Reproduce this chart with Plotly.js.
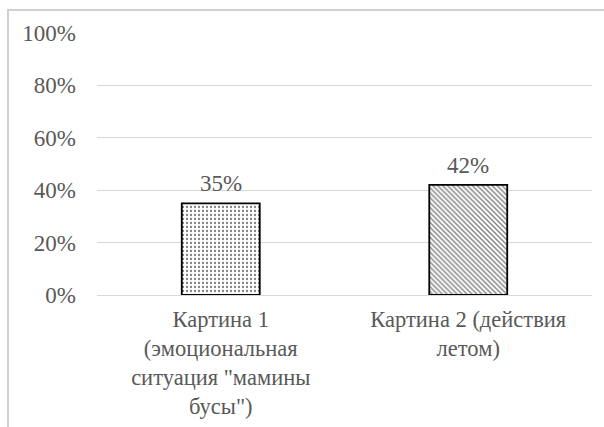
<!DOCTYPE html>
<html>
<head>
<meta charset="utf-8">
<script src="https://cdn.plot.ly/plotly-3.0.1.min.js"></script>
<style>
html,body{margin:0;padding:0;background:#fff;}
#chart{width:604px;height:427px;}
</style>
</head>
<body>
<div id="chart"></div>
<script>
const categories = [
  'Картина 1<br>(эмоциональная<br>ситуация "мамины<br>бусы")',
  'Картина 2 (действия<br>летом)'
];
const values = [0.35, 0.42];
const valueLabels = ['35%', '42%'];
const patternShapes = ['.', '\\'];
const yTicks = [0, 0.2, 0.4, 0.6, 0.8, 1.0];
const yTickLabels = ['0%', '20%', '40%', '60%', '80%', '100%'];

const fontFamily = 'Liberation Serif';
const textColor = '#595959';

const trace = {
  type: 'bar',
  x: categories,
  y: values,
  hoverinfo: 'none',
  marker: {
    color: '#ffffff',
    line: {color: '#000000', width: 1.8},
    pattern: {
      shape: patternShapes,
      fgcolor: '#000000',
      bgcolor: '#ffffff',
      size: [4, 3.5],
      solidity: [0.25, 0.4],
      fillmode: 'overlay'
    }
  }
};

const valueAnnotations = categories.map((c, i) => ({
  xref: 'x', yref: 'y', x: c, y: values[i],
  text: valueLabels[i], showarrow: false,
  yanchor: 'bottom', yshift: 5,
  font: {family: fontFamily, size: 23, color: textColor}
}));

const L = 97, R = 12, T = 33, B = 132;
const W = 604 - L - R, H = 427 - T - B;
const px2x = p => (p - L) / W;
const py2y = p => 1 - (p - T) / H;

const layout = {
  width: 604,
  height: 427,
  margin: {l: L, r: R, t: T, b: B, pad: 0},
  paper_bgcolor: '#ffffff',
  plot_bgcolor: '#ffffff',
  showlegend: false,
  bargap: 0.685,
  font: {family: fontFamily, size: 23, color: textColor},
  xaxis: {
    type: 'category',
    showgrid: false,
    showline: false,
    zeroline: false,
    ticks: '',
    ticklabelstandoff: 8,
    tickfont: {family: fontFamily, size: 22.5, color: textColor},
    tickangle: 0,
    automargin: false
  },
  yaxis: {
    range: [0, 1],
    tickvals: yTicks,
    ticktext: yTickLabels,
    showgrid: true,
    gridcolor: '#d9d9d9',
    gridwidth: 1,
    zeroline: true,
    zerolinecolor: '#d9d9d9',
    zerolinewidth: 1,
    showline: false,
    ticks: '',
    ticklabelstandoff: 20,
    tickfont: {family: fontFamily, size: 23, color: textColor},
    automargin: false
  },
  annotations: valueAnnotations,
  shapes: [
    {type: 'line', xref: 'paper', yref: 'paper',
     x0: px2x(8), x1: px2x(8), y0: py2y(430), y1: py2y(9),
     line: {color: '#d0d0d0', width: 2}},
    {type: 'line', xref: 'paper', yref: 'paper',
     x0: px2x(7), x1: px2x(610), y0: py2y(10), y1: py2y(10),
     line: {color: '#d0d0d0', width: 2}}
  ]
};

Plotly.newPlot('chart', [trace], layout, {displayModeBar: false, staticPlot: true});
</script>
</body>
</html>
